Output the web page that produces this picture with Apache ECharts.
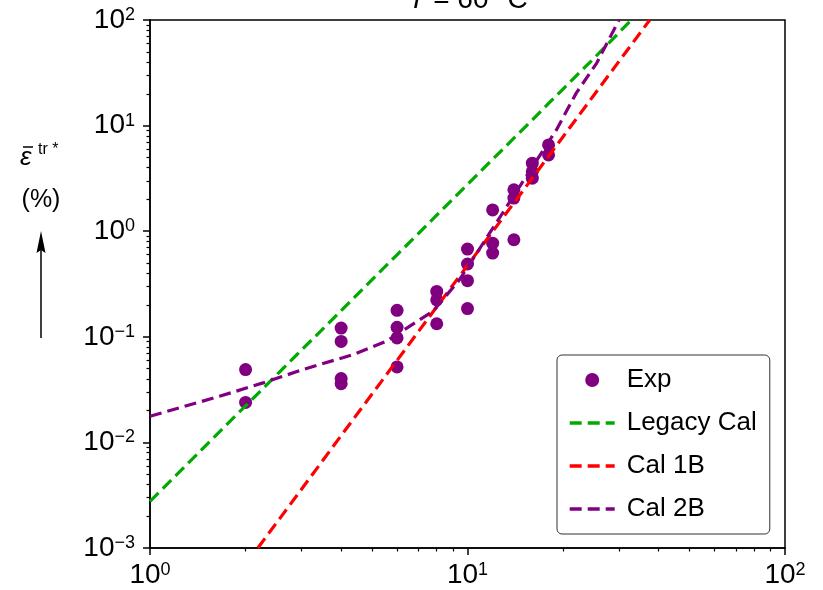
<!DOCTYPE html>
<html><head><meta charset="utf-8">
<script src="https://cdn.jsdelivr.net/npm/echarts@6/dist/echarts.min.js"></script>
<style>html,body{margin:0;padding:0;background:#fff}#c{width:823px;height:590px}</style>
</head><body><div id="c"></div>
<script>
// ---- data ----
const expX = [2,2,4,4,4,4,6,6,6,6,8,8,8,10,10,10,10,12,12,12,14,14,14,16,16,16,18,18];
const expY = [0.0489,0.0239,0.121,0.0905,0.0402,0.036,0.178,0.123,0.0975,0.0518,0.269,0.224,0.133,0.677,0.489,0.34,0.185,1.59,0.77,0.621,2.47,2.06,0.83,4.41,3.67,3.18,6.56,5.28];
const legacyX = [1,2,4,6,8,10,12,14,16,18,20,25,32.8];
const legacyY = [0.00277,0.0222,0.177,0.598,1.42,2.77,4.79,7.6,11.3,16.2,22.2,43.3,100];
const cal1bX = [2.186,3,4,6,8,10,12,14,16,18,20,25,30,37.5];
const cal1bY = [0.001,0.0036,0.0116,0.0598,0.192,0.474,0.992,1.85,3.18,5.13,7.85,19.4,40.6,100];
const cal2bX = [1,1.655,2.27,3.03,4.36,5.55,6.11,7.07,7.78,9.44,12.3,14.6,19.05,22,25.5,30];
const cal2bY = [0.0177,0.0273,0.0366,0.0489,0.0678,0.0906,0.109,0.145,0.174,0.347,1.19,2.65,9.1,20.3,38.9,100];
const xMajor = [1,10,100];
const xMinor = [2,3,4,5,6,7,8,9,20,30,40,50,60,70,80,90];
const yMajor = [0.001,0.01,0.1,1,10,100];
const yMinor = [0.002,0.003,0.004,0.005,0.006,0.007,0.008,0.009,
                0.02,0.03,0.04,0.05,0.06,0.07,0.08,0.09,
                0.2,0.3,0.4,0.5,0.6,0.7,0.8,0.9,
                2,3,4,5,6,7,8,9,20,30,40,50,60,70,80,90];
const legendNames = ['Exp','Legacy Cal','Cal 1B','Cal 2B'];
const titleText = '{i|T} = 60 °C';

const FONT = 'Liberation Sans';
const zip = (xs, ys) => xs.map((x, i) => [x, ys[i]]);
function powLabel(v) {
  const e = Math.round(Math.log10(v));
  return '{b|10}{s|' + (e < 0 ? '\u2212' + (-e) : e) + '}';
}
const richLab = {
  b: {fontSize: 28, fontFamily: FONT, color: '#000'},
  s: {fontSize: 18, fontFamily: FONT, color: '#000', verticalAlign: 'top'}
};
const G = {left: 150, right: 38, top: 20, bottom: 42};
const gw = 823 - G.left - G.right, gh = 590 - G.top - G.bottom;
const DASH = [12, 6];
const hideSym = {color: 'rgba(0,0,0,0)', borderColor: 'rgba(0,0,0,0)', borderWidth: 0, opacity: 0};

const chart = echarts.init(document.getElementById('c'), null, {renderer: 'canvas'});
chart.setOption({
  animation: false,
  backgroundColor: '#fff',
  grid: Object.assign({show: true, borderColor: '#000', borderWidth: 1.5, containLabel: false}, G),
  xAxis: [{
    type: 'log', logBase: 10, min: 1, max: 100, position: 'bottom',
    axisLine: {show: true, lineStyle: {color: '#000', width: 1.5}},
    axisTick: {show: true, length: 7, lineStyle: {color: '#000', width: 1.5}, customValues: xMajor},
    axisLabel: {customValues: xMajor, formatter: powLabel, rich: richLab, margin: 13},
    splitLine: {show: false}, minorTick: {show: false}
  }, {
    type: 'log', logBase: 10, min: 1, max: 100, position: 'top', offset: -gh,
    axisLine: {show: false},
    axisTick: {show: true, inside: true, length: 3.5, lineStyle: {color: '#000', width: 1.2}, customValues: xMinor},
    axisLabel: {show: false}, splitLine: {show: false}
  }],
  yAxis: [{
    type: 'log', logBase: 10, min: 0.001, max: 100, position: 'left',
    axisLine: {show: true, lineStyle: {color: '#000', width: 1.5}},
    axisTick: {show: true, length: 7, lineStyle: {color: '#000', width: 1.5}, customValues: yMajor},
    axisLabel: {customValues: yMajor, formatter: powLabel, rich: richLab, margin: 15},
    splitLine: {show: false}
  }, {
    type: 'log', logBase: 10, min: 0.001, max: 100, position: 'right', offset: -gw,
    axisLine: {show: false},
    axisTick: {show: true, inside: true, length: 3.5, lineStyle: {color: '#000', width: 1.2}, customValues: yMinor},
    axisLabel: {show: false}, splitLine: {show: false}
  }],
  legend: {
    orient: 'vertical', left: 557, top: 355,
    data: [{name: legendNames[0], icon: 'circle'},
           {name: legendNames[1], itemStyle: hideSym},
           {name: legendNames[2], itemStyle: hideSym},
           {name: legendNames[3], itemStyle: hideSym}],
    itemWidth: 45, itemHeight: 14, itemGap: 17,
    padding: [12, 13, 12, 11],
    lineStyle: {width: 3.4, type: DASH},
    borderColor: '#333', borderWidth: 1, borderRadius: 5, backgroundColor: '#fff',
    textStyle: {fontSize: 26, fontFamily: FONT, color: '#000', padding: [0, 0, 0, 7]}
  },
  series: [{
    name: legendNames[0], type: 'scatter', data: zip(expX, expY),
    symbol: 'circle', symbolSize: 13, itemStyle: {color: '#800080', opacity: 1}
  }, {
    name: legendNames[1], type: 'line', data: zip(legacyX, legacyY), symbol: 'none', showSymbol: false,
    itemStyle: {color: '#00aa00'}, lineStyle: {color: '#00aa00', width: 3.2, type: DASH}
  }, {
    name: legendNames[2], type: 'line', data: zip(cal1bX, cal1bY), symbol: 'none', showSymbol: false,
    itemStyle: {color: '#ff0000'}, lineStyle: {color: '#ff0000', width: 3.2, type: DASH}
  }, {
    name: legendNames[3], type: 'line', data: zip(cal2bX, cal2bY), symbol: 'none', showSymbol: false,
    itemStyle: {color: '#800080'}, lineStyle: {color: '#800080', width: 3.2, type: DASH}
  }],
  graphic: [
    {type: 'text', x: 468, y: 0, z: 10, style: {
      text: titleText, textAlign: 'center', textVerticalAlign: 'middle',
      fontSize: 28, fontFamily: FONT, fill: '#000',
      rich: {i: {fontSize: 28, fontFamily: FONT, fontStyle: 'italic', fill: '#000'}}
    }},
    {type: 'text', x: 20, y: 158, style: {
      text: '\u03B5', textAlign: 'left', textVerticalAlign: 'middle',
      fontSize: 26, fontFamily: FONT, fontStyle: 'italic', fill: '#000'
    }},
    {type: 'line', shape: {x1: 23, y1: 147, x2: 33, y2: 147}, style: {stroke: '#000', lineWidth: 1.5}},
    {type: 'text', x: 38, y: 150, style: {
      text: 'tr *', textAlign: 'left', textVerticalAlign: 'middle',
      fontSize: 16, fontFamily: FONT, fill: '#000'
    }},
    {type: 'text', x: 41, y: 200, style: {
      text: '(%)', textAlign: 'center', textVerticalAlign: 'middle',
      fontSize: 25, fontFamily: FONT, fill: '#000'
    }},
    {type: 'line', shape: {x1: 41, y1: 338, x2: 41, y2: 250}, style: {stroke: '#000', lineWidth: 1.5}},
    {type: 'polygon', shape: {points: [[41, 231], [36.5, 253], [41, 250], [45.5, 253]]}, style: {fill: '#000'}}
  ]
});
</script></body></html>
